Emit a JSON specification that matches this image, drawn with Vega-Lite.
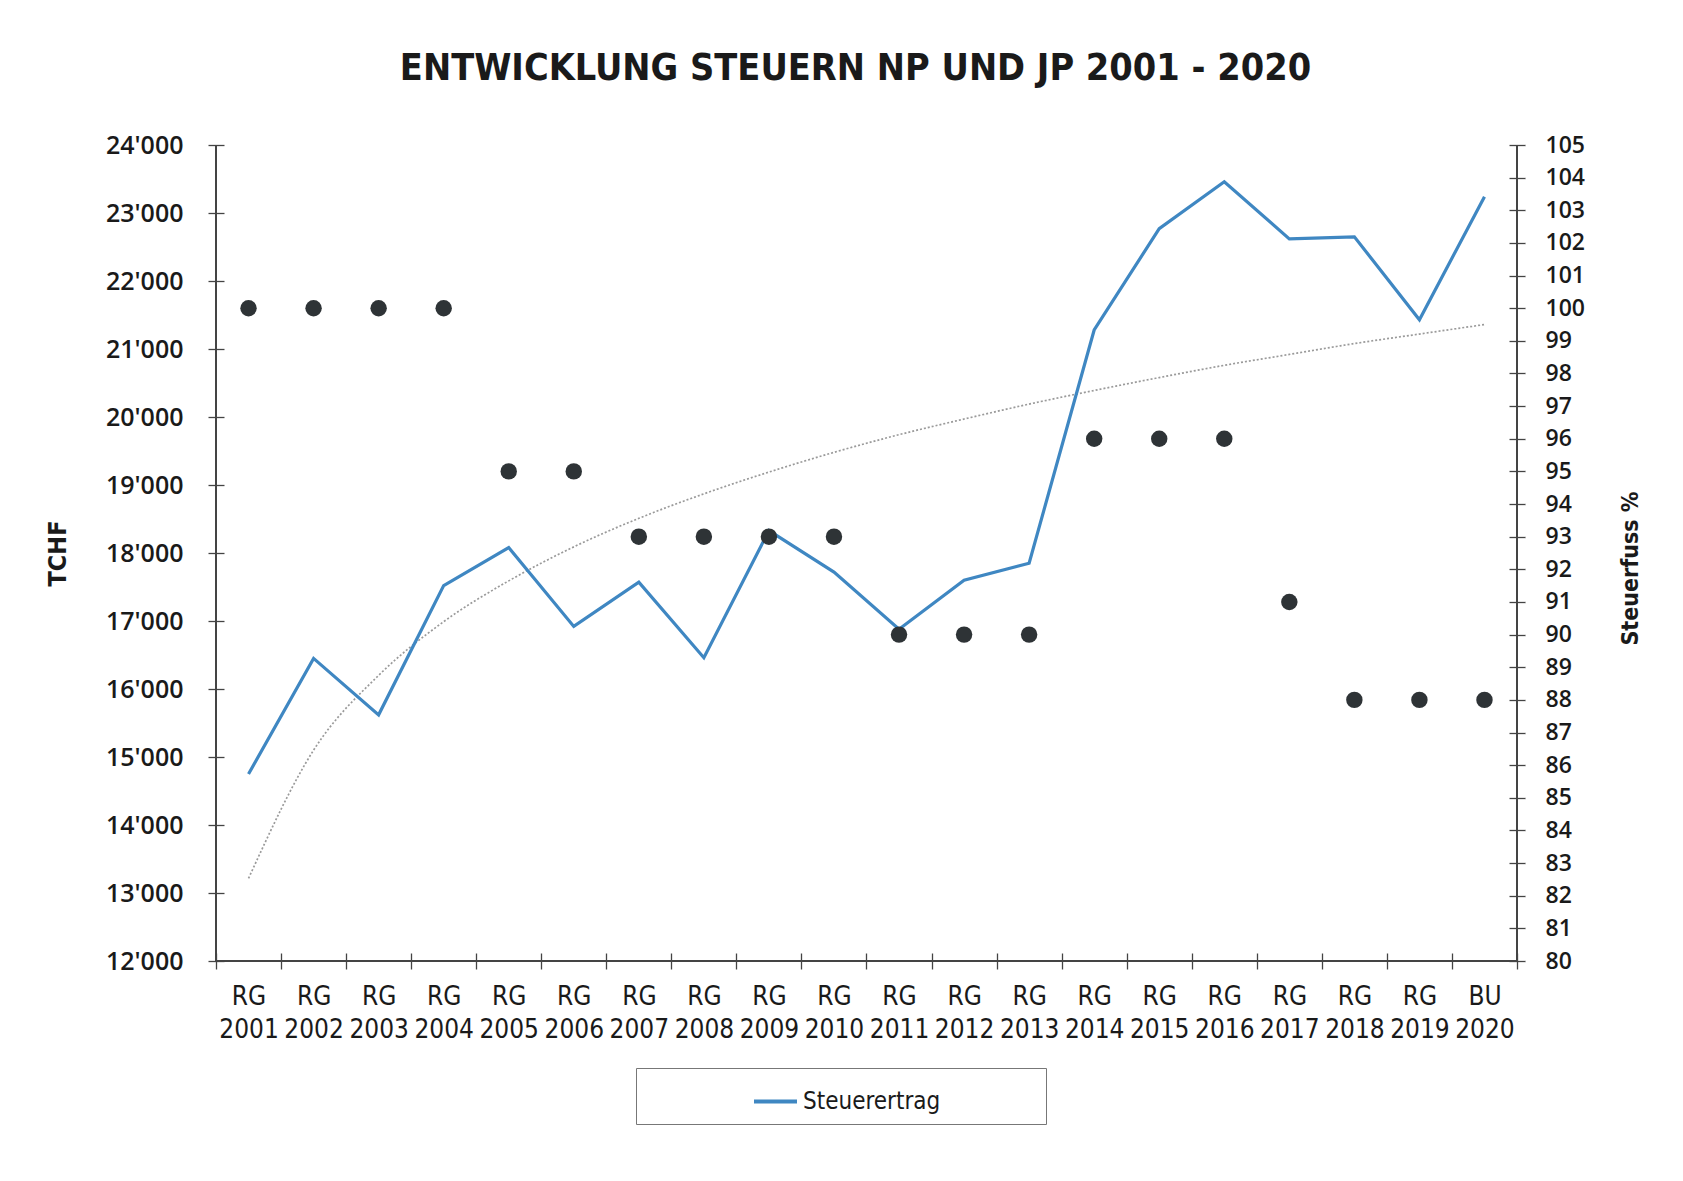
{
  "$schema": "https://vega.github.io/schema/vega-lite/v6.json",
  "width": 1301,
  "height": 816,
  "autosize": {"type": "none"},
  "padding": {"left": 216, "top": 145, "right": 166, "bottom": 220},
  "background": "white",
  "config": {
    "view": {"stroke": null},
    "font": "DejaVu Sans Condensed, Roboto",
    "axisX": {
      "labelAngle": 0,
      "offset": -8,
      "tickSize": 16,
      "tickBand": "extent",
      "tickColor": "#444",
      "tickWidth": 1.3,
      "domain": false,
      "grid": false,
      "labelFont": "DejaVu Sans Condensed, Roboto",
      "labelFontSize": 26,
      "labelLineHeight": 33,
      "labelPadding": 14,
      "labelColor": "#1a1a1a",
      "labelLimit": 200
    },
    "axisLeft": {
      "offset": -8,
      "tickSize": 16,
      "tickColor": "#444",
      "tickWidth": 1.3,
      "domain": false,
      "grid": false,
      "labelFont": "Open Sans",
      "labelFontSize": 25,
      "labelFontWeight": 600,
      "labelColor": "#1a1a1a",
      "labelPadding": 25,
      "labelOverlap": false,
      "titleFont": "DejaVu Sans Condensed, Roboto",
      "titleFontSize": 25,
      "titleFontWeight": "bold",
      "titleColor": "#1a1a1a",
      "titlePadding": 35
    },
    "axisRight": {
      "offset": -8,
      "tickSize": 16,
      "tickColor": "#444",
      "tickWidth": 1.3,
      "domain": false,
      "grid": false,
      "labelFont": "Open Sans",
      "labelFontSize": 23,
      "labelFontWeight": 600,
      "labelColor": "#1a1a1a",
      "labelPadding": 20,
      "labelOverlap": false,
      "titleFont": "DejaVu Sans Condensed, Roboto",
      "titleFontSize": 23,
      "titleFontWeight": "bold",
      "titleColor": "#1a1a1a",
      "titleAngle": -90,
      "titleBaseline": "top",
      "titleAlign": "center",
      "titleY": 423,
      "titlePadding": 35
    }
  },
  "title": {
    "text": "ENTWICKLUNG STEUERN NP UND JP 2001 - 2020",
    "font": "DejaVu Sans Condensed, Roboto",
    "fontSize": 37.5,
    "fontWeight": "bold",
    "color": "#1a1a1a",
    "anchor": "middle",
    "offset": 46,
    "dx": -11
  },
  "data": {
    "values": [
      {"Jahr": "RG 2001", "Steuerertrag": 14750, "Steuerfuss": 100, "Trend": 13215},
      {"Jahr": "RG 2002", "Steuerertrag": 16450, "Steuerfuss": 100, "Trend": 15100},
      {"Jahr": "RG 2003", "Steuerertrag": 15620, "Steuerfuss": 100, "Trend": 16200},
      {"Jahr": "RG 2004", "Steuerertrag": 17520, "Steuerfuss": 100, "Trend": 16990},
      {"Jahr": "RG 2005", "Steuerertrag": 18080, "Steuerfuss": 95, "Trend": 17590},
      {"Jahr": "RG 2006", "Steuerertrag": 16920, "Steuerfuss": 95, "Trend": 18090},
      {"Jahr": "RG 2007", "Steuerertrag": 17570, "Steuerfuss": 93, "Trend": 18510},
      {"Jahr": "RG 2008", "Steuerertrag": 16460, "Steuerfuss": 93, "Trend": 18870},
      {"Jahr": "RG 2009", "Steuerertrag": 18330, "Steuerfuss": 93, "Trend": 19190},
      {"Jahr": "RG 2010", "Steuerertrag": 17720, "Steuerfuss": 93, "Trend": 19480},
      {"Jahr": "RG 2011", "Steuerertrag": 16880, "Steuerfuss": 90, "Trend": 19740},
      {"Jahr": "RG 2012", "Steuerertrag": 17600, "Steuerfuss": 90, "Trend": 19970},
      {"Jahr": "RG 2013", "Steuerertrag": 17850, "Steuerfuss": 90, "Trend": 20190},
      {"Jahr": "RG 2014", "Steuerertrag": 21280, "Steuerfuss": 96, "Trend": 20390},
      {"Jahr": "RG 2015", "Steuerertrag": 22770, "Steuerfuss": 96, "Trend": 20580},
      {"Jahr": "RG 2016", "Steuerertrag": 23460, "Steuerfuss": 96, "Trend": 20760},
      {"Jahr": "RG 2017", "Steuerertrag": 22620, "Steuerfuss": 91, "Trend": 20920},
      {"Jahr": "RG 2018", "Steuerertrag": 22650, "Steuerfuss": 88, "Trend": 21080},
      {"Jahr": "RG 2019", "Steuerertrag": 21430, "Steuerfuss": 88, "Trend": 21220},
      {"Jahr": "BU 2020", "Steuerertrag": 23240, "Steuerfuss": 88, "Trend": 21360}
    ]
  },
  "layer": [
    {
      "layer": [
        {
          "mark": {"type": "line", "color": "#9a9a9a", "strokeWidth": 1.7, "strokeDash": [2, 2], "interpolate": "monotone"},
          "encoding": {
            "x": {"field": "Jahr", "type": "nominal", "sort": null, "scale": {"paddingInner": 0, "paddingOuter": 0}, "axis": {"title": null, "labelExpr": "split(datum.label, ' ')"}},
            "y": {"field": "Trend", "type": "quantitative", "scale": {"domain": [12000, 24000], "nice": false, "zero": false},
              "axis": {"orient": "left", "title": "TCHF", "values": [12000, 13000, 14000, 15000, 16000, 17000, 18000, 19000, 20000, 21000, 22000, 23000, 24000], "labelExpr": "replace(format(datum.value, ','), ',', \"'\")"}}
          }
        },
        {
          "mark": {"type": "line", "strokeWidth": 3.2},
          "encoding": {
            "x": {"field": "Jahr", "type": "nominal", "sort": null, "scale": {"paddingInner": 0, "paddingOuter": 0}, "axis": {"title": null, "labelExpr": "split(datum.label, ' ')"}},
            "y": {"field": "Steuerertrag", "type": "quantitative", "scale": {"domain": [12000, 24000], "nice": false, "zero": false},
              "axis": {"orient": "left", "title": "TCHF", "values": [12000, 13000, 14000, 15000, 16000, 17000, 18000, 19000, 20000, 21000, 22000, 23000, 24000], "labelExpr": "replace(format(datum.value, ','), ',', \"'\")"}},
            "color": {
              "datum": "Steuerertrag",
              "type": "nominal",
              "scale": {"range": ["#3f87c2"]},
              "legend": {
                "orient": "none",
                "legendX": 420,
                "legendY": 923,
                "title": null,
                "strokeColor": "#777",
                "padding": 10,
                "symbolType": "stroke",
                "symbolStrokeWidth": 4,
                "symbolSize": 1849,
                "symbolOffset": 106,
                "labelFont": "DejaVu Sans Condensed, Roboto",
                "labelFontSize": 24,
                "labelColor": "#1a1a1a",
                "labelOffset": 4,
                "labelLimit": 500,
                "labelExpr": "datum.label + '\u2800\u2800\u2800\u2800\u2800\u2800'"
              }
            }
          }
        },
        {
          "mark": {"type": "rule", "color": "#444", "strokeWidth": 1.5},
          "encoding": {"y": {"datum": 12000, "type": "quantitative", "scale": {"domain": [12000, 24000], "nice": false, "zero": false},
            "axis": {"orient": "left", "title": "TCHF", "values": [12000, 13000, 14000, 15000, 16000, 17000, 18000, 19000, 20000, 21000, 22000, 23000, 24000], "labelExpr": "replace(format(datum.value, ','), ',', \"'\")"}}}
        },
        {
          "mark": {"type": "rule", "color": "#444", "strokeWidth": 1.5},
          "encoding": {"x": {"datum": "RG 2001", "bandPosition": 0}}
        }
      ]
    },
    {
      "layer": [
        {
          "mark": {"type": "circle", "size": 270, "color": "#2e3336", "opacity": 1},
          "encoding": {
            "x": {"field": "Jahr", "type": "nominal", "sort": null, "scale": {"paddingInner": 0, "paddingOuter": 0}, "axis": {"title": null, "labelExpr": "split(datum.label, ' ')"}},
            "y": {
              "field": "Steuerfuss",
              "type": "quantitative",
              "scale": {"domain": [80, 105], "nice": false, "zero": false},
              "axis": {
                "orient": "right",
                "title": "Steuerfuss %",
                "values": [80, 81, 82, 83, 84, 85, 86, 87, 88, 89, 90, 91, 92, 93, 94, 95, 96, 97, 98, 99, 100, 101, 102, 103, 104, 105]
              }
            }
          }
        },
        {
          "mark": {"type": "rule", "color": "#444", "strokeWidth": 1.5},
          "encoding": {"x": {"datum": "BU 2020", "bandPosition": 1}}
        }
      ]
    }
  ],
  "resolve": {"scale": {"y": "independent"}}
}
